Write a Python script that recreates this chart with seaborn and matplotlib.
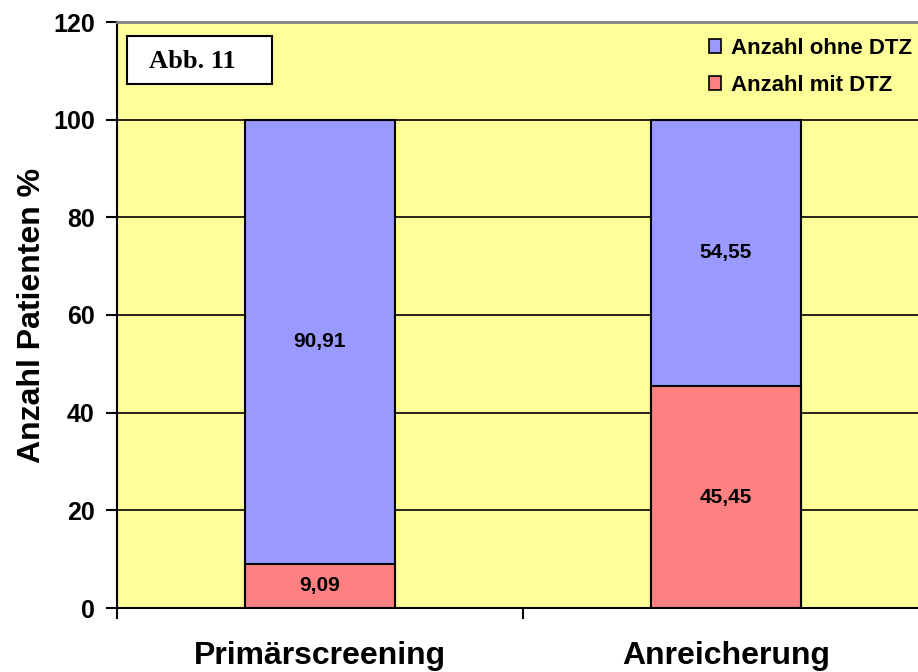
import matplotlib
matplotlib.use("Agg")
import matplotlib.pyplot as plt
import seaborn as sns
import pandas as pd
from matplotlib.patches import Patch, Rectangle

categories = ["Primärscreening", "Anreicherung"]
mit_dtz = [9.09, 45.45]
ohne_dtz = [90.91, 54.55]
series_names = ["Anzahl ohne DTZ", "Anzahl mit DTZ"]
y_ticks = [0, 20, 40, 60, 80, 100, 120]

sns.set_style("white")
plt.rcParams['font.family'] = ['Liberation Sans', 'DejaVu Sans']
plt.rcParams['text.color'] = 'black'
plt.rcParams['xtick.color'] = 'black'
plt.rcParams['ytick.color'] = 'black'
plt.rcParams['axes.labelcolor'] = 'black'

BLUE = "#9999FF"
RED = "#FF8080"
YELLOW = "#FFFF99"

df = pd.DataFrame({"cat": categories, "mit": mit_dtz, "ohne": ohne_dtz})
df["total"] = df["mit"] + df["ohne"]

fig = plt.figure(figsize=(9.18, 6.72), dpi=100)
ax = fig.add_axes([117/918, (672-608)/672, 812/918, 586/672])
ax.set_facecolor(YELLOW)

for y in [20, 40, 60, 80, 100]:
    ax.axhline(y, color="black", lw=1.2, zorder=0.5)

sns.barplot(data=df, x="cat", y="total", color=BLUE, edgecolor="black",
            linewidth=1.5, width=0.37, ax=ax, saturation=1, zorder=2)
sns.barplot(data=df, x="cat", y="mit", color=RED, edgecolor="black",
            linewidth=1.5, width=0.37, ax=ax, saturation=1, zorder=3)

for i in range(len(categories)):
    ax.text(i, mit_dtz[i] / 2, f"{mit_dtz[i]:.2f}".replace(".", ","),
            ha="center", va="center", fontsize=15, fontweight="bold", zorder=5)
    ax.text(i, mit_dtz[i] + ohne_dtz[i] / 2, f"{ohne_dtz[i]:.2f}".replace(".", ","),
            ha="center", va="center", fontsize=15, fontweight="bold", zorder=5)

ax.set_xlim(-0.5, 1.5)
ax.set_ylim(0, 120)
ax.set_yticks(y_ticks)
ax.set_yticklabels([str(v) for v in y_ticks], fontsize=18, fontweight="bold")
ax.set_xticks([-0.5, 0.5, 1.5])
ax.set_xticklabels(["", "", ""])
ax.set_xticks([0, 1], minor=True)
ax.set_xticklabels(categories, minor=True, fontsize=23, fontweight="bold")
ax.tick_params(axis="x", which="minor", length=0, pad=24)
ax.tick_params(axis="x", which="major", length=8, width=1.5, direction="out", bottom=True)
ax.tick_params(axis="y", length=8, width=1.5, direction="out", left=True, pad=8)
ax.set_xlabel("")
ax.set_ylabel("Anzahl Patienten %", fontsize=23, fontweight="bold", labelpad=4)

for s in ["left", "bottom"]:
    ax.spines[s].set_visible(True)
    ax.spines[s].set_color("black")
    ax.spines[s].set_linewidth(1.5)
ax.spines["top"].set_color("#808080")
ax.spines["top"].set_linewidth(2)
ax.spines["right"].set_visible(False)

# Abb. 11 box
ax.add_patch(Rectangle(((127-117)/812, (608-84)/586), 145/812, 48/586,
                       transform=ax.transAxes, facecolor="white", edgecolor="black",
                       linewidth=1.5, zorder=6))
ax.text((192-117)/812, (608-62)/586, "Abb. 11", transform=ax.transAxes,
        ha="center", va="center", fontsize=19, fontweight="bold",
        family=["Liberation Serif", "DejaVu Serif"], zorder=7)

handles = [Patch(facecolor=BLUE, edgecolor="black", linewidth=1.2),
           Patch(facecolor=RED, edgecolor="black", linewidth=1.2)]
fig.legend(handles, series_names, loc="upper left",
           bbox_to_anchor=(709/918, 1 - 38/672), frameon=False,
           prop={"size": 16, "weight": "bold"}, borderpad=0,
           handlelength=0.55, handleheight=0.55, handletextpad=0.45,
           labelspacing=0.72, borderaxespad=0)

fig.savefig("out.png", dpi=100)
